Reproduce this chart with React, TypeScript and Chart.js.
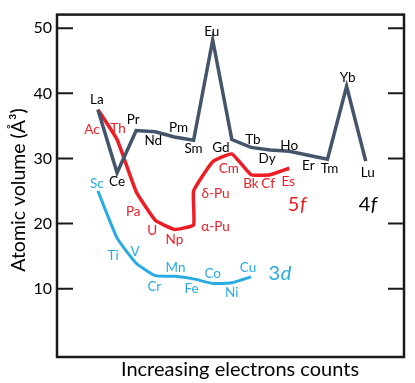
import React, { useEffect, useRef } from 'react';
import { Chart, registerables } from 'chart.js';

Chart.register(...registerables);

const FONT = 'Lato, "Open Sans", sans-serif';

// 4f series (lanthanides)
const f4Labels = ['La', 'Ce', 'Pr', 'Nd', 'Pm', 'Sm', 'Eu', 'Gd', 'Tb', 'Dy', 'Ho', 'Er', 'Tm', 'Yb', 'Lu'];
const f4Positions = [0, 1, 2, 3, 4, 5, 6, 7, 8, 9, 10, 11, 12, 13, 14];
const f4Values = [37.5, 27.8, 34.3, 34.1, 33.3, 32.8, 48.2, 32.9, 31.7, 31.3, 31.1, 30.5, 29.9, 41.1, 29.6];

// 5f series (actinides)
const f5Labels = ['Ac', 'Th', 'Pa', 'U', 'Np', 'α-Pu', 'δ-Pu', '', 'Cm', 'Bk', 'Cf', 'Es'];
const f5Positions = [0, 1, 2, 3, 4, 5, 5, 6, 7, 8, 9, 10];
const f5Values = [37.5, 32.9, 24.9, 20.5, 19.1, 19.8, 25.0, 29.5, 30.7, 27.5, 27.5, 28.5];

// 3d series (transition metals)
const d3Labels = ['Sc', 'Ti', 'V', 'Cr', 'Mn', 'Fe', 'Co', 'Ni', 'Cu'];
const d3Positions = [0, 1, 2, 3, 4, 5, 6, 7, 8];
const d3Values = [25.0, 17.8, 13.9, 12.0, 11.9, 11.5, 10.8, 10.9, 11.8];

const yTicks = [10, 20, 30, 40, 50];

// label placement (pixel offsets from each point), kept apart from data
const f4LabelOffsets = [[-1, -10], [0, 9], [-3, -11], [-2, 9], [4, -9], [0, 8], [-1, -8], [-11, 8], [2, -8], [-3, 9], [0, -6], [0, 10], [2, 10], [1, -9], [2, 12]];
const f5LabelOffsets = [[-6, 20], [1, -11], [-3, 20], [-3, 10], [0, 10], [22, 2], [22, 3], [0, 0], [-3, 15], [0, 9], [-2, 9], [-1, 13]];
const d3LabelOffsets = [[-1, -7], [-4, 18], [-1, -12], [-1, 11], [1, -9], [-2, 10], [0, -10], [0, 10], [-3, -9]];

const C4 = '#44546A';
const C5 = '#EE1C25';
const C3 = '#29ABE2';

const seriesTags = [
  { main: '5', ital: 'f', x: 10.4, y: 22.9, color: C5 },
  { main: '4', ital: 'f', x: 14.1, y: 22.9, color: '#000000' },
  { main: '3', ital: 'd', x: 9.5, y: 12.3, color: C3 },
];

const pts = (pos: number[], vals: number[]) => vals.map((v, i) => ({ x: pos[i], y: v }));

const labelPlugin = {
  id: 'labelsAndFrame',
  afterDatasetsDraw(chart: any) {
    const { ctx, chartArea, scales } = chart;
    const xs = scales.x;
    const ys = scales.y;
    ctx.save();
    // point labels
    const groups = [
      { idx: 0, labels: f4Labels, offs: f4LabelOffsets, color: '#000000' },
      { idx: 1, labels: f5Labels, offs: f5LabelOffsets, color: C5 },
      { idx: 2, labels: d3Labels, offs: d3LabelOffsets, color: C3 },
    ];
    ctx.font = `13.5px ${FONT}`;
    ctx.textAlign = 'center';
    ctx.textBaseline = 'middle';
    groups.forEach((g) => {
      const meta = chart.getDatasetMeta(g.idx);
      ctx.fillStyle = g.color;
      meta.data.forEach((el: any, j: number) => {
        const t = g.labels[j];
        if (!t) return;
        ctx.fillText(t, el.x + g.offs[j][0], el.y + g.offs[j][1]);
      });
    });
    // series tags
    seriesTags.forEach((s) => {
      const px = xs.getPixelForValue(s.x);
      const py = ys.getPixelForValue(s.y);
      ctx.font = `20px ${FONT}`;
      const w1 = ctx.measureText(s.main).width;
      ctx.font = `italic 20px ${FONT}`;
      const w2 = ctx.measureText(s.ital).width;
      const start = px - (w1 + w2) / 2;
      ctx.textAlign = 'left';
      ctx.fillStyle = s.color;
      ctx.font = `20px ${FONT}`;
      ctx.fillText(s.main, start, py);
      ctx.font = `italic 20px ${FONT}`;
      ctx.fillText(s.ital, start + w1 + 0.5, py);
    });
    // frame
    ctx.strokeStyle = '#1a1a1a';
    ctx.lineWidth = 2.5;
    ctx.strokeRect(chartArea.left, chartArea.top, chartArea.right - chartArea.left, chartArea.bottom - chartArea.top);
    // inner ticks on both sides
    ctx.lineWidth = 2;
    ys.ticks.forEach((t: any) => {
      if (!yTicks.includes(t.value)) return;
      const py = ys.getPixelForValue(t.value);
      ctx.beginPath();
      ctx.moveTo(chartArea.left, py);
      ctx.lineTo(chartArea.left + 16, py);
      ctx.moveTo(chartArea.right - 16, py);
      ctx.lineTo(chartArea.right, py);
      ctx.stroke();
    });
    // axis titles
    ctx.fillStyle = '#000000';
    ctx.font = `20px ${FONT}`;
    ctx.textAlign = 'center';
    ctx.textBaseline = 'middle';
    ctx.fillText('Increasing electrons counts', 240, 370);
    ctx.font = `19.5px ${FONT}`;
    ctx.translate(19, 190);
    ctx.rotate(-Math.PI / 2);
    ctx.fillText('Atomic volume (Å³)', 0, 0);
    ctx.restore();
  },
};

export default function App() {
  const ref = useRef<HTMLCanvasElement | null>(null);
  useEffect(() => {
    if (!ref.current) return;
    const chart = new Chart(ref.current, {
      type: 'line',
      data: {
        datasets: [
          {
            label: '4f',
            data: pts(f4Positions, f4Values),
            borderColor: C4,
            borderWidth: 3.5,
            pointRadius: 0,
            tension: 0,
            borderJoinStyle: 'miter',
          },
          {
            label: '5f',
            data: pts(f5Positions, f5Values),
            borderColor: C5,
            borderWidth: 3.5,
            pointRadius: 0,
            tension: 0.12,
            borderJoinStyle: 'round',
          },
          {
            label: '3d',
            data: pts(d3Positions, d3Values),
            borderColor: C3,
            borderWidth: 3,
            pointRadius: 0,
            tension: 0.15,
            borderJoinStyle: 'round',
          },
        ],
      },
      options: {
        animation: false,
        responsive: false,
        layout: { padding: { top: 11, right: 11, left: 0, bottom: 0 } },
        plugins: { legend: { display: false }, tooltip: { enabled: false } },
        scales: {
          x: {
            type: 'linear',
            min: -2.14,
            max: 16.0,
            ticks: { display: false },
            grid: { display: false },
            border: { display: false },
            afterFit: (s: any) => { s.height = 26; },
          },
          y: {
            type: 'linear',
            min: -0.5,
            max: 52.1,
            afterBuildTicks: (s: any) => { s.ticks = yTicks.map((v) => ({ value: v })); },
            ticks: { font: { family: FONT, size: 16 }, color: '#000000', padding: 5 },
            grid: { display: false, drawTicks: false },
            border: { display: false },
            afterFit: (s: any) => { s.width = 57; },
          },
        },
      },
      plugins: [labelPlugin],
    });
    return () => chart.destroy();
  }, []);
  return (
    <div style={{ position: 'fixed', left: 0, top: 0, width: 415, height: 383, background: '#fff' }}>
      <canvas ref={ref} width={415} height={383} style={{ width: 415, height: 383 }} />
    </div>
  );
}
